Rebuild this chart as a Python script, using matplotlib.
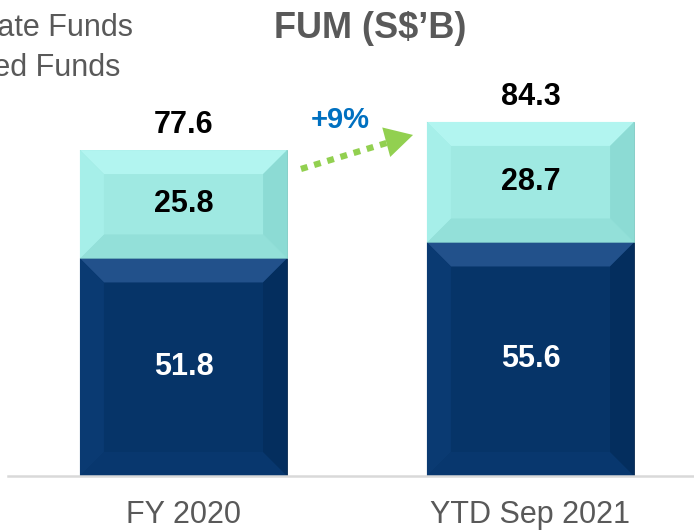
import matplotlib
matplotlib.use('Agg')
from matplotlib import pyplot as plt
from matplotlib.patches import Polygon

plt.rcParams['font.family'] = ['Liberation Sans', 'DejaVu Sans']

# данные
categories = ['FY 2020', 'YTD Sep 2021']
listed_funds = [51.8, 55.6]
private_funds = [25.8, 28.7]
totals = [77.6, 84.3]
growth_label = '+9%'

navy = {'face': '#063468', 'top': '#22518B', 'left': '#0A3A72', 'right': '#042E5E', 'bottom': '#08376E'}
cyan = {'face': '#9FE9E2', 'top': '#B2F5F0', 'left': '#A6EFE9', 'right': '#8CDBD4', 'bottom': '#93E0D9'}
grey = '#595959'

fig = plt.figure(figsize=(6.94, 5.30), dpi=100)
ax = fig.add_axes([8 / 694, 54 / 530, 686 / 694, 476 / 530])
ax.set_xlim(-0.5058, 1.4712)
ax.set_ylim(0, 113.33)

x = list(range(len(categories)))
width = 0.597

b1 = ax.bar(x, listed_funds, width, color=navy['face'], edgecolor='#0A2A50', linewidth=0.6)
b2 = ax.bar(x, private_funds, width, bottom=listed_funds, color=cyan['face'], edgecolor='#7CC9C2', linewidth=0.6)

# размер фаски в пикселях -> в единицах данных
px_x = ax.bbox.width / (ax.get_xlim()[1] - ax.get_xlim()[0])
px_y = ax.bbox.height / (ax.get_ylim()[1] - ax.get_ylim()[0])
bev = 24
bx, by = bev / px_x, bev / px_y


def bevel(rect, cols):
    x0, y0 = rect.get_x(), rect.get_y()
    x1, y1 = x0 + rect.get_width(), y0 + rect.get_height()
    polys = {
        'top': [(x0, y1), (x1, y1), (x1 - bx, y1 - by), (x0 + bx, y1 - by)],
        'bottom': [(x0, y0), (x1, y0), (x1 - bx, y0 + by), (x0 + bx, y0 + by)],
        'left': [(x0, y0), (x0, y1), (x0 + bx, y1 - by), (x0 + bx, y0 + by)],
        'right': [(x1, y0), (x1, y1), (x1 - bx, y1 - by), (x1 - bx, y0 + by)],
    }
    for k, p in polys.items():
        ax.add_patch(Polygon(p, closed=True, facecolor=cols[k], edgecolor='none', zorder=2.5))


for r in b1:
    bevel(r, navy)
for r in b2:
    bevel(r, cyan)

for i in x:
    ax.text(i, listed_funds[i] / 2, f'{listed_funds[i]:.1f}', ha='center', va='center',
            color='white', fontsize=22, fontweight='bold', zorder=4)
    ax.text(i, listed_funds[i] + private_funds[i] / 2, f'{private_funds[i]:.1f}', ha='center',
            va='center', color='black', fontsize=22, fontweight='bold', zorder=4)
    ax.text(i, totals[i] + 6, f'{totals[i]:.1f}', ha='center', va='center',
            color='black', fontsize=22, fontweight='bold', zorder=4)

# стрелка роста
x_start = x[0] + width / 2 + 0.04
x_end = x[1] - width / 2 - 0.04
y_start = totals[0] - 4.5
y_end = totals[1] - 3.1
fr = 0.78
xm = x_start + (x_end - x_start) * fr
ym = y_start + (y_end - y_start) * fr
ax.plot([x_start, xm], [y_start, ym], color='#92D050', lw=4.5, linestyle=(0, (1.1, 1.1)),
        dash_capstyle='butt', zorder=3)
ax.annotate('', xy=(x_end, y_end), xytext=(xm - 0.01, ym - 0.03),
            arrowprops=dict(arrowstyle='-|>,head_length=1.0,head_width=0.55', mutation_scale=20,
                            color='#92D050', lw=0, shrinkA=0, shrinkB=0))
ax.text(x_start + (x_end - x_start) * 0.35, y_end + 3.5, growth_label, ha='center', va='center',
        color='#0070C0', fontsize=21, fontweight='bold')

for s in ['top', 'left', 'right']:
    ax.spines[s].set_visible(False)
ax.spines['bottom'].set_color('#D9D9D9')
ax.spines['bottom'].set_linewidth(1.8)
ax.set_yticks([])
ax.set_xticks(x)
ax.set_xticklabels(categories, fontsize=22, color=grey)
ax.tick_params(axis='x', length=0, pad=17)

fig.text(370 / 694, 1 - 28 / 530, 'FUM (S$’B)', ha='center', va='center', fontsize=26,
         fontweight='bold', color=grey)
fig.text(133 / 694, 1 - 28 / 530, 'Private Funds', ha='right', va='center', fontsize=22, color=grey)
fig.text(120 / 694, 1 - 68 / 530, 'Listed Funds', ha='right', va='center', fontsize=22, color=grey)

plt.savefig('out.png', dpi=100)
